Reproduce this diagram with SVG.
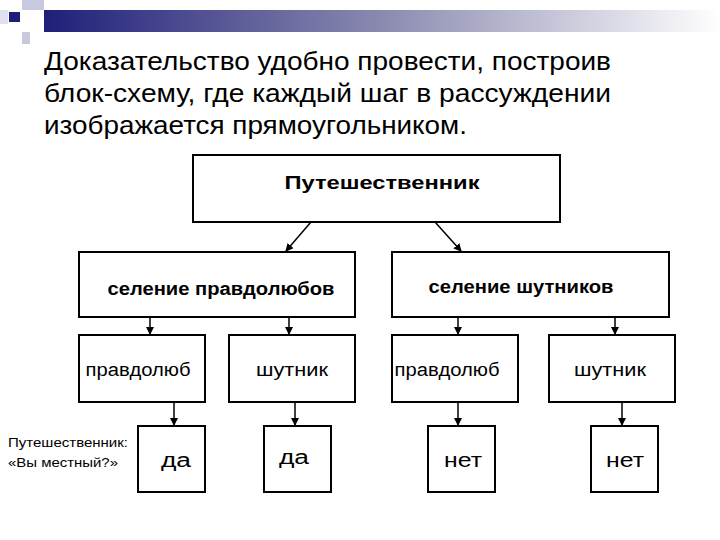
<svg xmlns="http://www.w3.org/2000/svg" width="720" height="540" viewBox="0 0 720 540">
<defs>
<linearGradient id="bar" x1="0" x2="1" y1="0" y2="0"><stop offset="0" stop-color="#1f1f7a"/><stop offset="0.5" stop-color="#8a8ab0"/><stop offset="1" stop-color="#ffffff"/></linearGradient>
<marker id="ah" markerWidth="8" markerHeight="8" refX="7" refY="4" orient="auto" markerUnits="userSpaceOnUse"><path d="M0,0 L8,4 L0,8 z" fill="#000"/></marker>
<style>
.b{fill:#fff;stroke:#000;stroke-width:2}
.t{font-family:"Liberation Sans",Arial,sans-serif;fill:#000;text-anchor:middle}
.c line{stroke:#000;stroke-width:1.5;marker-end:url(#ah)}
</style>
</defs>
<rect width="720" height="540" fill="#fff"/>
<g id="decor">
<rect x="22" y="0" width="22" height="10" fill="#c8c8e0"/>
<rect x="22" y="32" width="8" height="12" fill="#c8c8e0"/>
<rect x="0" y="10" width="8" height="14" fill="#e0e0ee"/>
<rect x="9" y="12" width="11" height="10" fill="#1f1f7a"/>
<rect x="44" y="10" width="676" height="22" fill="url(#bar)"/>
</g>
<g id="heading" font-family="Liberation Sans, Arial, sans-serif" font-size="26" fill="#000">
<text x="44" y="70" textLength="567" lengthAdjust="spacingAndGlyphs">Доказательство удобно провести, построив</text>
<text x="44" y="102" textLength="567" lengthAdjust="spacingAndGlyphs">блок-схему, где каждый шаг в рассуждении</text>
<text x="44" y="134" textLength="423" lengthAdjust="spacingAndGlyphs">изображается прямоугольником.</text>
</g>
<g class="c" id="connectors">
<line x1="311" y1="222" x2="286" y2="251"/>
<line x1="435" y1="222" x2="461" y2="251"/>
<line x1="150" y1="317" x2="150" y2="334"/>
<line x1="289" y1="317" x2="289" y2="334"/>
<line x1="458" y1="317" x2="458" y2="334"/>
<line x1="615" y1="317" x2="615" y2="334"/>
<line x1="174" y1="402" x2="174" y2="425"/>
<line x1="295" y1="402" x2="295" y2="425"/>
<line x1="458" y1="402" x2="458" y2="425"/>
<line x1="622" y1="402" x2="622" y2="425"/>
</g>
<g id="n-top"><rect class="b" x="193" y="155" width="367" height="67"/><text class="t" x="382" y="189" font-size="19" font-weight="bold" textLength="195" lengthAdjust="spacingAndGlyphs">Путешественник</text></g>
<g id="n-v1"><rect class="b" x="79" y="252" width="276" height="65"/><text class="t" x="221" y="295" font-size="18" font-weight="bold" textLength="227" lengthAdjust="spacingAndGlyphs">селение правдолюбов</text></g>
<g id="n-v2"><rect class="b" x="392" y="252" width="277" height="65"/><text class="t" x="521" y="293" font-size="18" font-weight="bold" textLength="185" lengthAdjust="spacingAndGlyphs">селение шутников</text></g>
<g id="n-a1"><rect class="b" x="79" y="335" width="126" height="67"/><text class="t" x="138" y="376" font-size="18" textLength="105" lengthAdjust="spacingAndGlyphs">правдолюб</text></g>
<g id="n-a2"><rect class="b" x="229" y="335" width="126" height="67"/><text class="t" x="292" y="376" font-size="18" textLength="72" lengthAdjust="spacingAndGlyphs">шутник</text></g>
<g id="n-a3"><rect class="b" x="392" y="335" width="126" height="67"/><text class="t" x="447" y="376" font-size="18" textLength="105" lengthAdjust="spacingAndGlyphs">правдолюб</text></g>
<g id="n-a4"><rect class="b" x="549" y="335" width="126" height="67"/><text class="t" x="610" y="376" font-size="18" textLength="72" lengthAdjust="spacingAndGlyphs">шутник</text></g>
<g id="n-d1"><rect class="b" x="138" y="426" width="67" height="66"/><text class="t" x="176" y="467" font-size="20" textLength="30" lengthAdjust="spacingAndGlyphs">да</text></g>
<g id="n-d2"><rect class="b" x="264" y="426" width="67" height="66"/><text class="t" x="294" y="464" font-size="20" textLength="30" lengthAdjust="spacingAndGlyphs">да</text></g>
<g id="n-d3"><rect class="b" x="428" y="426" width="67" height="66"/><text class="t" x="463" y="467" font-size="20" textLength="38" lengthAdjust="spacingAndGlyphs">нет</text></g>
<g id="n-d4"><rect class="b" x="591" y="426" width="67" height="66"/><text class="t" x="625" y="467" font-size="20" textLength="38" lengthAdjust="spacingAndGlyphs">нет</text></g>
<g id="question" font-family="Liberation Sans, Arial, sans-serif" font-size="13" fill="#000">
<text x="8" y="447" textLength="120" lengthAdjust="spacingAndGlyphs">Путешественник:</text>
<text x="8" y="467" textLength="110" lengthAdjust="spacingAndGlyphs">«Вы местный?»</text>
</g>
</svg>
